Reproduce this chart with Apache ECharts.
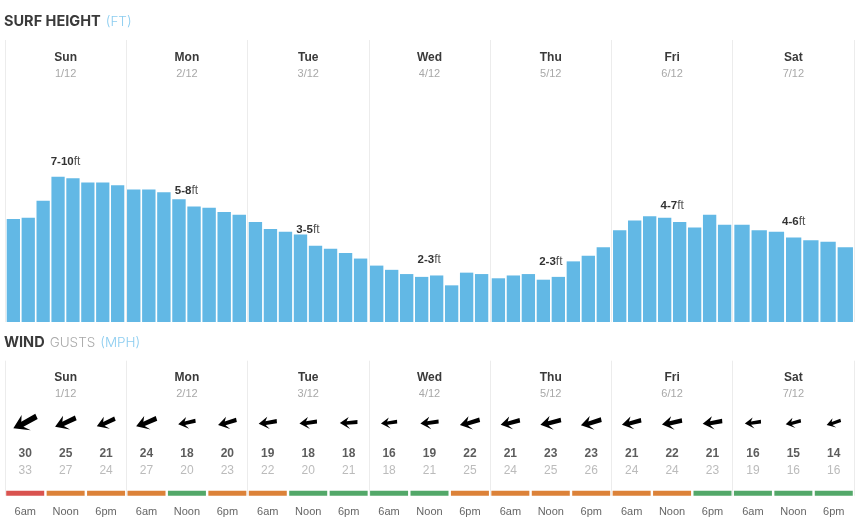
<!DOCTYPE html>
<html>
<head>
<meta charset="utf-8">
<style>html,body{margin:0;padding:0;background:#fff}#main{width:856px;height:532px}</style>
<script src="https://cdn.jsdelivr.net/npm/echarts@6/dist/echarts.min.js"></script>
</head>
<body>
<div id="main"></div>
<script>
// ---------- data ----------
var days = ['Sun', 'Mon', 'Tue', 'Wed', 'Thu', 'Fri', 'Sat'];
var dates = ['1/12', '2/12', '3/12', '4/12', '5/12', '6/12', '7/12'];
var times = ['6am', 'Noon', '6pm'];

var surfSun = [7.3, 7.4, 8.6, 10.3, 10.2, 9.9, 9.9, 9.7];
var surfMon = [9.4, 9.4, 9.2, 8.7, 8.2, 8.1, 7.8, 7.6];
var surfTue = [7.1, 6.6, 6.4, 6.2, 5.4, 5.2, 4.9, 4.5];
var surfWed = [4.0, 3.7, 3.4, 3.2, 3.3, 2.6, 3.5, 3.4];
var surfThu = [3.1, 3.3, 3.4, 3.0, 3.2, 4.3, 4.7, 5.3];
var surfFri = [6.5, 7.2, 7.5, 7.4, 7.1, 6.7, 7.6, 6.9];
var surfSat = [6.9, 6.5, 6.4, 6.0, 5.8, 5.7, 5.3];
var surfRanges = ['7-10', '5-8', '3-5', '2-3', '2-3', '4-7', '4-6'];

var windSpeed = [30, 25, 21, 24, 18, 20, 19, 18, 18, 16, 19, 22, 21, 23, 23, 21, 22, 21, 16, 15, 14];
var windGust = [33, 27, 24, 27, 20, 23, 22, 20, 21, 18, 21, 25, 24, 25, 26, 24, 24, 23, 19, 16, 16];
var windDir = [24, 20, 20, 18, 8, 12, 5, 3, 0, 3, 3, 12, 10, 10, 12, 10, 8, 5, 3, 10, 15];
var windRating = ['r', 'o', 'o', 'o', 'g', 'o', 'o', 'g', 'g', 'g', 'g', 'o', 'o', 'o', 'o', 'o', 'o', 'g', 'g', 'g', 'g'];

// ---------- layout / style ----------
var FONT = '"Liberation Sans", Arial, sans-serif';
var TITLE_FONT = 'Inter, "Liberation Sans", sans-serif';
var surfDays = [surfSun, surfMon, surfTue, surfWed, surfThu, surfFri, surfSat];
var dayLeft = [5.9, 126.2, 247.9, 369.2, 490.9, 612.2, 733.4];
var dayRight = [125.1, 246.8, 368.1, 489.1, 610.8, 732.1, 853.9];
var rangeLift = [9, 3, -1.5, 11, 12, 6, 10];
var rangeShift = [7.5, 7.5, 7.5, 7.5, 7.5, 7.5, 0];
var ratingColor = { r: '#d9534f', o: '#dc8239', g: '#53a869' };
var ARROW = 'path://M0 30 L50 0 L38 21 L100 15 L100 35 L38 39 L58 60 Z';
var rowArrow = 72.7, rowSpeed = 42, rowGust = 25;

function dayAxis(gridIndex) {
  return {
    type: 'category', gridIndex: gridIndex, position: 'top', data: days, silent: true,
    axisLine: { show: false }, axisTick: { show: false },
    splitLine: { show: true, interval: 0, lineStyle: { color: '#ececec', width: 1 } },
    axisLabel: {
      inside: true, interval: 0, margin: 9,
      formatter: function (v, i) { return '{d|' + v + '}\n{s|' + dates[i] + '}'; },
      rich: {
        d: { fontFamily: FONT, fontSize: 12, fontWeight: 'bold', color: '#3a3a3a', lineHeight: 16.5, align: 'center' },
        s: { fontFamily: FONT, fontSize: 11, color: '#a8a8a8', lineHeight: 16.5, align: 'center' }
      }
    }
  };
}

var grids = [
  { left: 5, width: 849, top: 40, height: 282 },
  { left: 5, width: 849, top: 360.7, height: 135 }
];
var xAxes = [dayAxis(0), dayAxis(1)];
var yAxes = [
  { type: 'value', gridIndex: 0, min: 0, max: 20, show: false, splitLine: { show: false } },
  { type: 'value', gridIndex: 1, min: 0, max: 135, show: false, splitLine: { show: false } }
];

// 21 wind slots share the lower panel with the day axis
var slotNames = [];
windSpeed.forEach(function (v, i) { slotNames.push(times[i % 3]); });
xAxes.push({
  type: 'category', gridIndex: 1, position: 'bottom', data: slotNames, silent: true,
  axisLine: { show: false }, axisTick: { show: false },
  axisLabel: { interval: 0, margin: 11, fontFamily: FONT, fontSize: 11, color: '#666' }
});

var series = [];

// one small grid per day, Saturday only has seven bars
surfDays.forEach(function (vals, d) {
  var g = grids.length;
  grids.push({ left: dayLeft[d], width: dayRight[d] - dayLeft[d], top: 40, height: 282 });
  xAxes.push({ type: 'category', gridIndex: g, show: false, data: vals.map(function (v, i) { return i; }) });
  yAxes.push({ type: 'value', gridIndex: g, min: 0, max: 20, show: false, splitLine: { show: false } });
  series.push({
    type: 'bar', xAxisIndex: xAxes.length - 1, yAxisIndex: yAxes.length - 1, barCategoryGap: '11%',
    itemStyle: { color: '#62b8e5' },
    data: vals.map(function (v, i) {
      if (i !== 3) return v;
      return {
        value: v,
        label: {
          show: true, position: 'top', distance: rangeLift[d], offset: [rangeShift[d], 0],
          formatter: '{r|' + surfRanges[d] + '}{u|ft}',
          rich: {
            r: { fontFamily: FONT, fontSize: 11.5, fontWeight: 'bold', color: '#333' },
            u: { fontFamily: FONT, fontSize: 12, color: '#555' }
          }
        }
      };
    })
  });
});

// wind rating strip
series.push({
  type: 'bar', xAxisIndex: 2, yAxisIndex: 1, barWidth: 38,
  data: windRating.map(function (r) { return { value: 5, itemStyle: { color: ratingColor[r] } }; })
});

// arrows, size follows the wind speed
series.push({
  type: 'scatter', xAxisIndex: 2, yAxisIndex: 1, symbol: ARROW,
  symbolSize: function (val) { var len = 5 + val[2] * 0.7; return [len, len * 0.68]; },
  symbolRotate: function (val) { return val[3]; },
  itemStyle: { color: '#000', opacity: 1 },
  data: windSpeed.map(function (s, i) { return [i, rowArrow, s, windDir[i]]; })
});

function numberRow(vals, y, bold, color) {
  return {
    type: 'scatter', xAxisIndex: 2, yAxisIndex: 1, symbolSize: 1,
    itemStyle: { color: 'transparent' },
    label: {
      show: true, position: 'inside', formatter: '{@[2]}', fontFamily: FONT, fontSize: 12,
      fontWeight: bold ? 'bold' : 'normal', color: color
    },
    data: vals.map(function (v, i) { return [i, y, v]; })
  };
}
series.push(numberRow(windSpeed, rowSpeed, true, '#333'));
series.push(numberRow(windGust, rowGust, false, '#aaa'));

function panelTitle(text, top) {
  return {
    text: text, left: 4, top: top, padding: 0,
    textStyle: {
      rich: {
        a: { fontFamily: TITLE_FONT, fontSize: 14.5, fontWeight: 'bold', color: '#3a3a3a' },
        b: { fontFamily: TITLE_FONT, fontSize: 13.5, fontWeight: 300, color: '#a8a8a8' },
        c: { fontFamily: TITLE_FONT, fontSize: 13.5, fontWeight: 300, color: '#8ccdf0' }
      }
    }
  };
}

var option = {
  animation: false,
  backgroundColor: '#fff',
  title: [
    panelTitle('{a|SURF HEIGHT} {c|(FT)}', 13),
    panelTitle('{a|WIND} {b|GUSTS} {c|(MPH)}', 334)
  ],
  grid: grids,
  xAxis: xAxes,
  yAxis: yAxes,
  series: series
};

var chart = echarts.init(document.getElementById('main'));
chart.setOption(option);
</script>
</body>
</html>
